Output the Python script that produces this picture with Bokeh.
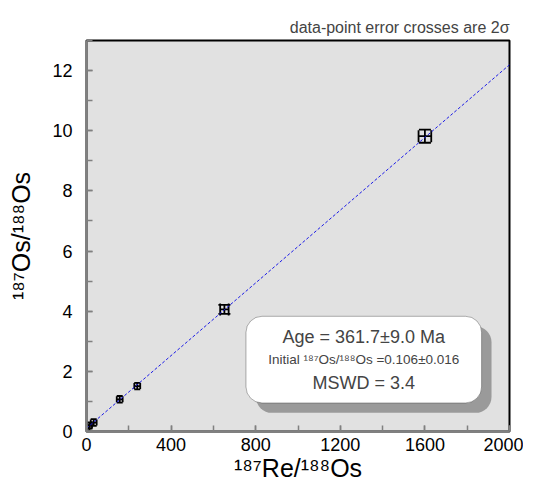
import numpy as np
from bokeh.plotting import figure
from bokeh.models import (ColumnDataSource, Whisker, TeeHead, BoxAnnotation, Label,
                          Range1d, SingleIntervalTicker)
from bokeh.embed import file_html
from bokeh.resources import INLINE

# ---- data ----
re188 = [2, 14, 34, 157, 240, 652, 1600]
os188 = [0.11, 0.20, 0.30, 1.07, 1.51, 4.06, 9.82]
re_err = [12, 12, 14, 14, 14, 20, 30]
os_err = [0.10, 0.10, 0.11, 0.11, 0.11, 0.15, 0.22]
big = [False, False, False, False, False, True, True]

age_ma = 361.7
age_err = 9.0
initial_ratio = 0.106
initial_err = 0.016
mswd = 3.4
lambda_re = 1.666e-11

FONT = "Liberation Sans"

p = figure(width=523, height=484, output_backend="svg", toolbar_location=None,
           x_range=Range1d(0, 2000), y_range=Range1d(0, 13),
           min_border_left=86, min_border_right=14, min_border_top=40, min_border_bottom=50,
           background_fill_color="#e1e1e1", border_fill_color="white",
           title="data-point error crosses are 2σ")
p.title.align = "right"
p.title.text_font = FONT
p.title.text_font_size = "16px"
p.title.text_font_style = "normal"
p.title.standoff = 10

p.outline_line_color = "black"
p.outline_line_width = 2
p.grid.visible = False

for ax in (p.xaxis[0], p.yaxis[0]):
    ax.axis_line_color = "#808080"
    ax.axis_line_width = 2.5
    ax.major_tick_line_color = "#808080"
    ax.minor_tick_line_color = "#808080"
    ax.major_tick_line_width = 1.5
    ax.minor_tick_line_width = 1.5
    ax.major_tick_in = 6
    ax.major_tick_out = 0
    ax.minor_tick_in = 6
    ax.minor_tick_out = 0
    ax.major_label_text_font = FONT
    ax.major_label_text_font_size = "18px"
    ax.major_label_text_color = "black"
    ax.axis_label_text_font = FONT
    ax.axis_label_text_font_size = "25px"
    ax.axis_label_text_font_style = "normal"
    ax.axis_label_text_color = "black"

p.xaxis.ticker = SingleIntervalTicker(interval=400, num_minor_ticks=2)
p.yaxis.ticker = SingleIntervalTicker(interval=2, num_minor_ticks=2)
p.xaxis.major_label_standoff = 6
p.xaxis.axis_label_standoff = 0
p.yaxis.major_label_standoff = 14
p.yaxis.axis_label_standoff = 14
p.xaxis.axis_label = "¹⁸⁷Re/¹⁸⁸Os"
p.yaxis.axis_label = "¹⁸⁷Os/¹⁸⁸Os"

# regression line
slope = np.exp(lambda_re * age_ma * 1e6) - 1
lx = np.array([0, 2000])
p.line(lx, initial_ratio + slope * lx, line_color="#1a1ae6", line_width=1, line_dash="3 2")

# error crosses
re_a = np.array(re188); os_a = np.array(os188)
ex = np.array(re_err); ey = np.array(os_err)
for sel, tee in ((~np.array(big), 6), (np.array(big), 12)):
    src = ColumnDataSource(dict(x=re_a[sel], y=os_a[sel],
                                xl=re_a[sel] - ex[sel], xu=re_a[sel] + ex[sel],
                                yl=os_a[sel] - ey[sel], yu=os_a[sel] + ey[sel]))
    p.add_layout(Whisker(source=src, base="y", lower="xl", upper="xu", dimension="width",
                         line_color="black", line_width=1.8,
                         upper_head=TeeHead(size=tee, line_color="black", line_width=1.8),
                         lower_head=TeeHead(size=tee, line_color="black", line_width=1.8)))
    p.add_layout(Whisker(source=src, base="x", lower="yl", upper="yu", dimension="height",
                         line_color="black", line_width=1.8,
                         upper_head=TeeHead(size=tee, line_color="black", line_width=1.8),
                         lower_head=TeeHead(size=tee, line_color="black", line_width=1.8)))

# results box
bx0, bx1, by0, by1 = 754, 1868, 0.95, 3.83
sdx, sdy = 47, 0.33
p.add_layout(BoxAnnotation(left=bx0 + sdx, right=bx1 + sdx, bottom=by0 - sdy, top=by1 - sdy,
                           fill_color="#9a9a9a", fill_alpha=1, line_color=None, border_radius=16))
p.add_layout(BoxAnnotation(left=bx0, right=bx1, bottom=by0, top=by1,
                           fill_color="white", fill_alpha=1, line_color="black", line_width=1,
                           border_radius=16))
cx = (bx0 + bx1) / 2
p.add_layout(Label(x=cx, y=3.15, text=f"Age = {age_ma}±{age_err:.1f} Ma", text_align="center",
                   text_baseline="middle", text_font=FONT, text_font_size="18px"))
p.add_layout(Label(x=cx, y=2.40, text=f"Initial ¹⁸⁷Os/¹⁸⁸Os ={initial_ratio:.3f}±{initial_err:.3f}",
                   text_align="center", text_baseline="middle", text_font=FONT, text_font_size="13.5px"))
p.add_layout(Label(x=cx, y=1.61, text=f"MSWD = {mswd}", text_align="center",
                   text_baseline="middle", text_font=FONT, text_font_size="18px"))

open("out.html", "w").write(file_html(p, INLINE))
